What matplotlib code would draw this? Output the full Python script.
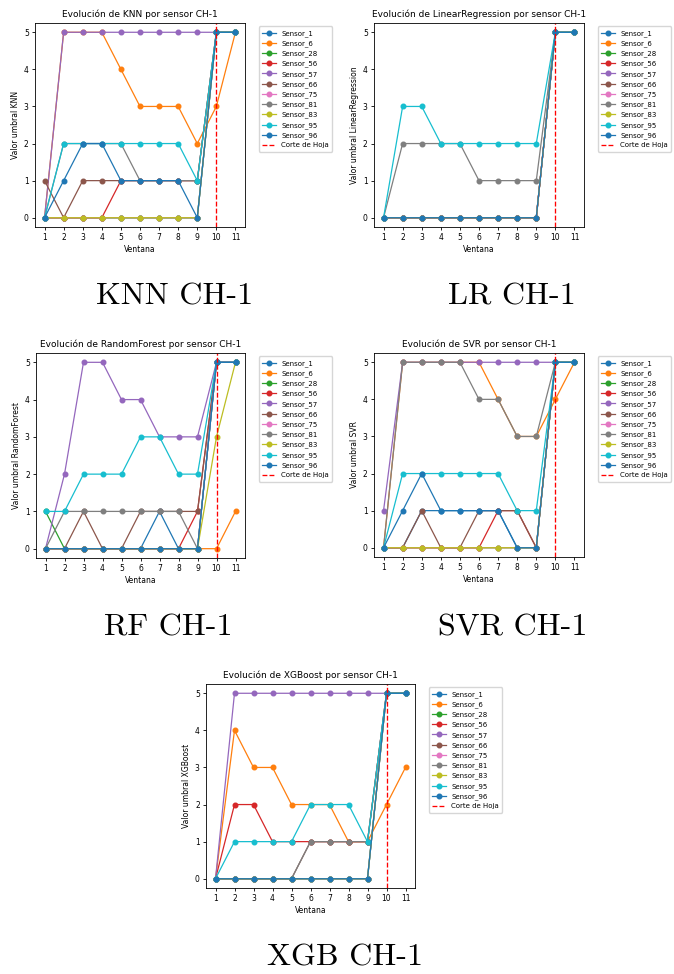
import matplotlib.pyplot as plt

windows = list(range(1, 12))
sensors = ['Sensor_1', 'Sensor_6', 'Sensor_28', 'Sensor_56', 'Sensor_57', 'Sensor_66',
           'Sensor_75', 'Sensor_81', 'Sensor_83', 'Sensor_95', 'Sensor_96']

# valores umbral por modelo
knn = {
    'Sensor_1':  [0, 0, 0, 0, 0, 0, 0, 0, 0, 5, 5],
    'Sensor_6':  [0, 5, 5, 5, 4, 3, 3, 3, 2, 3, 5],
    'Sensor_28': [0, 0, 0, 0, 0, 0, 0, 0, 0, 5, 5],
    'Sensor_56': [0, 0, 0, 0, 1, 1, 1, 1, 1, 5, 5],
    'Sensor_57': [0, 5, 5, 5, 5, 5, 5, 5, 5, 5, 5],
    'Sensor_66': [1, 0, 1, 1, 1, 1, 1, 1, 1, 5, 5],
    'Sensor_75': [0, 0, 0, 0, 0, 0, 0, 0, 0, 5, 5],
    'Sensor_81': [0, 2, 2, 2, 2, 1, 1, 1, 1, 5, 5],
    'Sensor_83': [0, 0, 0, 0, 0, 0, 0, 0, 0, 5, 5],
    'Sensor_95': [0, 2, 2, 2, 2, 2, 2, 2, 1, 5, 5],
    'Sensor_96': [0, 1, 2, 2, 1, 1, 1, 1, 0, 5, 5],
}
lr = {
    'Sensor_1':  [0, 0, 0, 0, 0, 0, 0, 0, 0, 5, 5],
    'Sensor_6':  [0, 0, 0, 0, 0, 0, 0, 0, 0, 5, 5],
    'Sensor_28': [0, 0, 0, 0, 0, 0, 0, 0, 0, 5, 5],
    'Sensor_56': [0, 0, 0, 0, 0, 0, 0, 0, 0, 5, 5],
    'Sensor_57': [0, 0, 0, 0, 0, 0, 0, 0, 0, 5, 5],
    'Sensor_66': [0, 0, 0, 0, 0, 0, 0, 0, 0, 5, 5],
    'Sensor_75': [0, 0, 0, 0, 0, 0, 0, 0, 0, 5, 5],
    'Sensor_81': [0, 2, 2, 2, 2, 1, 1, 1, 1, 5, 5],
    'Sensor_83': [0, 0, 0, 0, 0, 0, 0, 0, 0, 5, 5],
    'Sensor_95': [0, 3, 3, 2, 2, 2, 2, 2, 2, 5, 5],
    'Sensor_96': [0, 0, 0, 0, 0, 0, 0, 0, 0, 5, 5],
}
rf = {
    'Sensor_1':  [0, 0, 0, 0, 0, 0, 1, 0, 0, 5, 5],
    'Sensor_6':  [0, 0, 0, 0, 0, 0, 0, 0, 0, 0, 1],
    'Sensor_28': [1, 0, 0, 0, 0, 0, 0, 0, 0, 5, 5],
    'Sensor_56': [0, 0, 0, 0, 0, 0, 0, 0, 1, 5, 5],
    'Sensor_57': [0, 2, 5, 5, 4, 4, 3, 3, 3, 5, 5],
    'Sensor_66': [0, 0, 1, 0, 0, 1, 1, 1, 1, 5, 5],
    'Sensor_75': [0, 0, 0, 0, 0, 0, 0, 0, 0, 5, 5],
    'Sensor_81': [0, 1, 1, 1, 1, 1, 1, 1, 0, 5, 5],
    'Sensor_83': [0, 0, 0, 0, 0, 0, 0, 0, 0, 3, 5],
    'Sensor_95': [1, 1, 2, 2, 2, 3, 3, 2, 2, 5, 5],
    'Sensor_96': [0, 0, 0, 0, 0, 0, 0, 0, 0, 5, 5],
}
svr = {
    'Sensor_1':  [0, 0, 1, 1, 1, 1, 1, 0, 0, 5, 5],
    'Sensor_6':  [0, 5, 5, 5, 5, 5, 4, 3, 3, 4, 5],
    'Sensor_28': [0, 0, 0, 0, 0, 0, 0, 0, 0, 5, 5],
    'Sensor_56': [0, 0, 0, 0, 0, 0, 1, 1, 0, 5, 5],
    'Sensor_57': [1, 5, 5, 5, 5, 5, 5, 5, 5, 5, 5],
    'Sensor_66': [0, 0, 1, 0, 0, 1, 1, 1, 0, 5, 5],
    'Sensor_75': [0, 0, 0, 0, 0, 0, 0, 0, 0, 5, 5],
    'Sensor_81': [0, 5, 5, 5, 5, 4, 4, 3, 3, 5, 5],
    'Sensor_83': [0, 0, 0, 0, 0, 0, 0, 0, 0, 5, 5],
    'Sensor_95': [0, 2, 2, 2, 2, 2, 2, 1, 1, 5, 5],
    'Sensor_96': [0, 1, 2, 1, 1, 1, 1, 0, 0, 5, 5],
}
xgb = {
    'Sensor_1':  [0, 0, 0, 0, 0, 0, 0, 0, 0, 5, 5],
    'Sensor_6':  [0, 4, 3, 3, 2, 2, 2, 1, 1, 2, 3],
    'Sensor_28': [0, 0, 0, 0, 0, 0, 0, 0, 0, 5, 5],
    'Sensor_56': [0, 2, 2, 1, 1, 1, 1, 1, 1, 5, 5],
    'Sensor_57': [0, 5, 5, 5, 5, 5, 5, 5, 5, 5, 5],
    'Sensor_66': [0, 0, 0, 0, 0, 1, 1, 1, 1, 5, 5],
    'Sensor_75': [0, 0, 0, 0, 0, 0, 0, 0, 0, 5, 5],
    'Sensor_81': [0, 0, 0, 0, 0, 1, 1, 1, 1, 5, 5],
    'Sensor_83': [0, 0, 0, 0, 0, 0, 0, 0, 0, 5, 5],
    'Sensor_95': [0, 1, 1, 1, 1, 2, 2, 2, 1, 5, 5],
    'Sensor_96': [0, 0, 0, 0, 0, 0, 0, 0, 0, 5, 5],
}

W, H = 674, 974
fig = plt.figure(figsize=(W / 100, H / 100), dpi=100)

# (datos, nombre modelo, caption, caja de ejes en pixeles: izq, arriba, der, abajo, caption x, y)
panels = [
    (knn, 'KNN', 'KNN CH-1', (35, 23, 245, 227), 175, 297),
    (lr, 'LinearRegression', 'LR CH-1', (374, 23, 584, 227), 512, 297),
    (rf, 'RandomForest', 'RF CH-1', (36, 353, 245, 558), 168, 628),
    (svr, 'SVR', 'SVR CH-1', (374, 353, 584, 557), 513, 628),
    (xgb, 'XGBoost', 'XGB CH-1', (206, 684, 415, 888), 345, 958),
]

for data, model, caption, box, cx, cy in panels:
    l, t, r, b = box
    ax = fig.add_axes([l / W, 1 - b / H, (r - l) / W, (b - t) / H])
    for i, s in enumerate(sensors):
        ax.plot(windows, data[s], marker='o', markersize=3.3, linewidth=0.9,
                color='C%d' % (i % 10), label=s)
    ax.axvline(10, color='red', linestyle='--', linewidth=0.95, label='Corte de Hoja')
    ax.set_title('Evolución de %s por sensor CH-1' % model, fontsize=6.5, pad=4)
    ax.set_xlabel('Ventana', fontsize=5.5, labelpad=2)
    ax.set_ylabel('Valor umbral %s' % model, fontsize=5.5, labelpad=3)
    ax.set_xticks(windows)
    ax.set_yticks(range(6))
    ax.tick_params(labelsize=5.5, length=2.5, width=0.6, pad=2)
    for sp in ax.spines.values():
        sp.set_linewidth(0.6)
    ax.legend(loc='upper left', bbox_to_anchor=(1.05, 1), fontsize=5,
              handlelength=2, labelspacing=0.5, borderpad=0.5, handletextpad=0.7,
              framealpha=0.8)
    fig.text(cx / W, 1 - cy / H, caption, fontsize=23, family='cmr10',
             ha='center', va='center')

plt.savefig('out.png', dpi=100)
